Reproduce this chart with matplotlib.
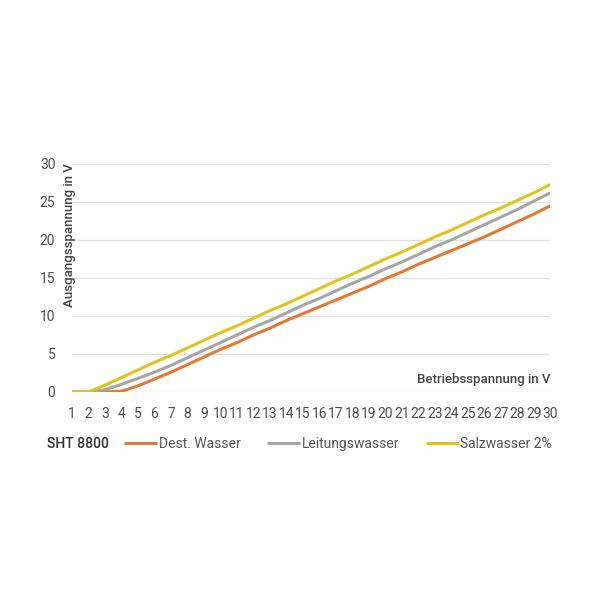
import numpy as np
import matplotlib
matplotlib.use("Agg")
import matplotlib.pyplot as plt

plt.rcParams["font.family"] = ["Roboto", "DejaVu Sans"]

betrieb = list(range(1, 31))
dest_wasser = [0, 0, 0, 0.1, 0.8, 1.7, 2.6, 3.6, 4.6, 5.6, 6.5, 7.5, 8.4, 9.4, 10.3,
               11.2, 12.1, 13.0, 13.9, 14.9, 15.8, 16.8, 17.7, 18.6, 19.5, 20.4, 21.4, 22.4, 23.4, 24.5]
leitungswasser = [0, 0, 0.3, 1.0, 1.8, 2.6, 3.5, 4.5, 5.5, 6.5, 7.5, 8.5, 9.4, 10.4, 11.4,
                  12.3, 13.3, 14.3, 15.2, 16.2, 17.1, 18.1, 19.1, 20.0, 21.0, 22.0, 23.0, 24.0, 25.1, 26.2]
salzwasser = [0, 0, 0.9, 1.9, 2.9, 3.9, 4.8, 5.8, 6.8, 7.8, 8.7, 9.7, 10.7, 11.6, 12.6,
              13.6, 14.6, 15.5, 16.5, 17.5, 18.4, 19.4, 20.4, 21.3, 22.3, 23.3, 24.2, 25.2, 26.2, 27.3]
y_ticks = [0, 5, 10, 15, 20, 25, 30]

fig = plt.figure(figsize=(6, 6), dpi=100)
ax = fig.add_axes([0.12, 0.3467, 0.797, 0.38])

ax.plot(betrieb, dest_wasser, color="#E07A35", lw=2.2, label="Dest. Wasser", solid_capstyle="butt")
ax.plot(betrieb, leitungswasser, color="#A6A6A6", lw=2.2, label="Leitungswasser", solid_capstyle="butt")
ax.plot(betrieb, salzwasser, color="#E2C21C", lw=2.2, label="Salzwasser 2%", solid_capstyle="butt")

ax.set_xlim(1, 30)
ax.set_ylim(0, 30)
ax.set_yticks(y_ticks)
ax.set_xticks(betrieb)
ax.set_xticklabels([str(b) for b in betrieb])
ax.set_xticks([b for b in betrieb if b % 2 == 1], minor=True)
ax.tick_params(axis="x", which="major", length=0, pad=11, labelsize=10, labelcolor="#4d4d4d")
ax.tick_params(axis="x", which="minor", length=8, direction="inout", color="#D8D8D8", width=1)
ax.tick_params(axis="y", length=0, pad=12, labelsize=10, labelcolor="#4d4d4d")
ax.grid(axis="y", color="#E2E2E2", lw=1)
ax.set_axisbelow(True)
for s in ax.spines.values():
    s.set_visible(False)

fig.text(69 / 600, 1 - 163 / 600, "Ausgangsspannung in V", rotation=90, ha="center", va="top",
         fontsize=9.5, color="#444444", fontweight="medium")
ax.text(30, 0.8, "Betriebsspannung in V", ha="right", va="bottom", fontsize=9.5,
        color="#444444", fontweight="medium")

fig.text(47 / 600, 1 - 444 / 600, "SHT 8800", ha="left", va="center", fontsize=10, color="#333333",
         fontweight="medium")
ax.legend(loc="center left", bbox_to_anchor=(0.109, -0.228), ncol=3, frameon=False,
          borderpad=0, borderaxespad=0,
          handlelength=2.4, handletextpad=0.1, columnspacing=1.9, fontsize=10,
          labelcolor="#555555")

fig.savefig("out.png", dpi=100, facecolor="white")
